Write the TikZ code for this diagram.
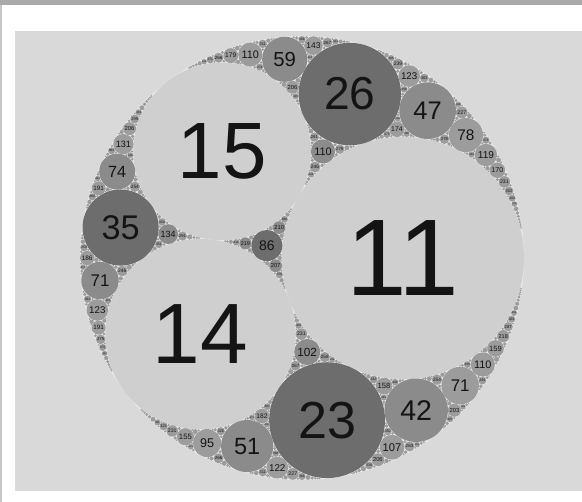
\documentclass[tikz,border=0pt]{standalone}
\usepackage{fontspec}
\setmainfont{Liberation Sans}
\definecolor{bandgray}{HTML}{A9A9A9}
\definecolor{edgegray}{HTML}{C6C6C6}
\definecolor{panelgray}{HTML}{D9D9D9}
\definecolor{discfill}{HTML}{EAEAEA}
\definecolor{genzero}{HTML}{CFCFCF}
\definecolor{genone}{HTML}{6D6D6D}
\definecolor{gentwo}{HTML}{8B8B8B}
\definecolor{genmore}{HTML}{9C9C9C}
\tikzset{
  lab/.style={inner sep=0pt, outer sep=0pt, text=black!92},
  disc/.style={fill=#1}
}
% Apollonian gasket (-6, 11, 14, 15) by the linear Descartes reflection
\newcount\apidx
\def\apKmax{1600}
\def\apKlab{500}
\def\apk#1{\csname gk@#1\endcsname}
\def\apx#1{\csname gx@#1\endcsname}
\def\apy#1{\csname gy@#1\endcsname}
\def\apstore#1#2#3#4{%
  \expandafter\xdef\csname gk@#1\endcsname{#2}%
  \expandafter\xdef\csname gx@#1\endcsname{#3}%
  \expandafter\xdef\csname gy@#1\endcsname{#4}}
\def\apdraw#1#2{%
  \edef\appx{\fpeval{round(302+1332*\apx{#1}/\apk{#1},3)}}%
  \edef\appy{\fpeval{round(244+1332*\apy{#1}/\apk{#1},3)}}%
  \edef\appr{\fpeval{round(1332/\apk{#1},3)}}%
  \ifcase#2 \def\apcol{genzero}\or\def\apcol{genone}\or\def\apcol{gentwo}\else\def\apcol{genmore}\fi
  \fill[fill=\apcol] (\appx,\appy) circle[radius=\appr];
  \ifnum\apk{#1}<\apKlab\relax
    \edef\apfs{\fpeval{round(0.9*\appr,2)}}%
    \node[lab] (c#1) at (\appx,\appy) {\fontsize{\apfs pt}{\apfs pt}\selectfont\apk{#1}};%
  \fi}
\def\apnew#1#2#3#4#5{%
  \edef\aptk{\fpeval{2*(\apk{#2}+\apk{#3}+\apk{#4})-(\apk{#1})}}%
  \ifnum\aptk>\apKmax\relax
    \let\apnext\relax
  \else
    \global\advance\apidx by 1
    \edef\aptx{\fpeval{2*(\apx{#2}+\apx{#3}+\apx{#4})-(\apx{#1})}}%
    \edef\apty{\fpeval{2*(\apy{#2}+\apy{#3}+\apy{#4})-(\apy{#1})}}%
    \apstore{\the\apidx}{\aptk}{\aptx}{\apty}%
    \edef\apnext{\noexpand\apdraw{\the\apidx}{#5}\noexpand\apgen{#2}{#3}{#4}{\the\apidx}{\the\numexpr#5+1\relax}}%
  \fi
  \apnext}
\def\apgen#1#2#3#4#5{%
  \apnew{#1}{#2}{#3}{#4}{#5}%
  \apnew{#2}{#1}{#3}{#4}{#5}%
  \apnew{#3}{#1}{#2}{#4}{#5}}
\begin{document}
\begin{tikzpicture}[x=1pt,y=1pt]
\useasboundingbox (0,0) rectangle (582,502);
\fill[white] (0,0) rectangle (582,502);
\fill[bandgray] (0,497) rectangle (582,502);
\fill[edgegray] (0,0) rectangle (1.5,497);
\fill[panelgray] (15,11) rectangle (582,471);
\fill[discfill] (302,244) circle[radius=222];
\apstore{0}{-6}{0}{0}%
\apstore{1}{11}{\fpeval{5/6}}{0}%
\apstore{2}{15}{-0.9}{1.2}%
\apstore{3}{14}{\fpeval{-16/15}}{-0.8}%
\global\apidx=3
\apdraw{1}{0}\apdraw{2}{0}\apdraw{3}{0}%
\apnew{0}{1}{2}{3}{1}%
\apnew{1}{0}{2}{3}{1}%
\apnew{2}{0}{1}{3}{1}%
\apnew{3}{0}{1}{2}{1}%
\end{tikzpicture}
\end{document}
